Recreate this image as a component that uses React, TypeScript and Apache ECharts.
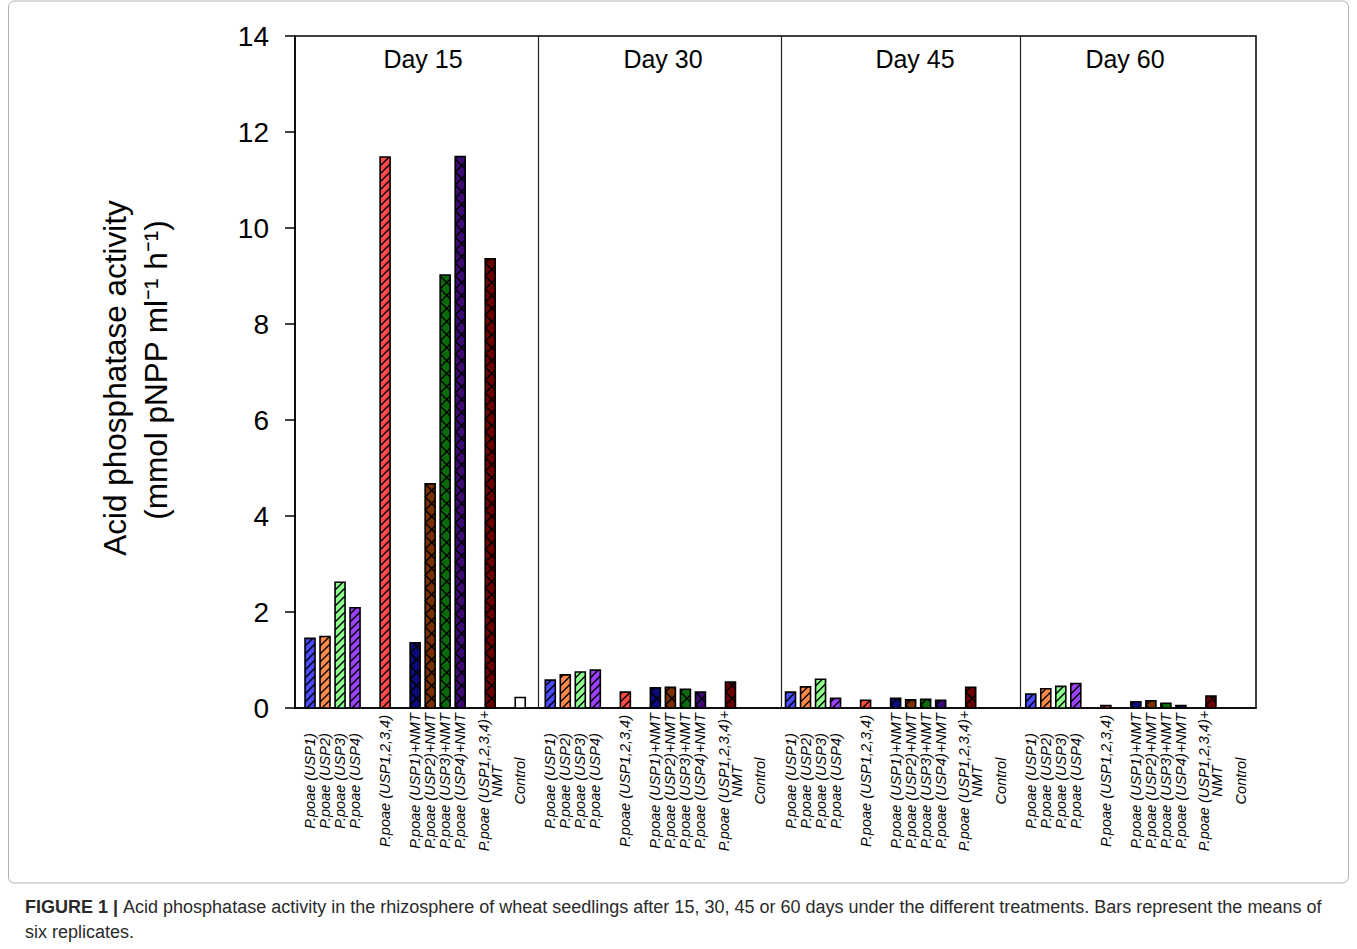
import React, { useEffect, useRef } from "react";
import * as echarts from "echarts";

const days = ["Day 15", "Day 30", "Day 45", "Day 60"];
const treatments = [
  "P.poae (USP1)",
  "P.poae (USP2)",
  "P.poae (USP3)",
  "P.poae (USP4)",
  "P.poae (USP1,2,3,4)",
  "P.poae (USP1)+NMT",
  "P.poae (USP2)+NMT",
  "P.poae (USP3)+NMT",
  "P.poae (USP4)+NMT",
  "P.poae (USP1,2,3,4)+\nNMT",
  "Control",
];
// slot of each treatment inside a 16-slot day block
const slots = [1, 2, 3, 4, 6, 8, 9, 10, 11, 13, 15];
const blockSize = 16;

const day15 = [1.45, 1.49, 2.62, 2.09, 11.48, 1.36, 4.67, 9.02, 11.49, 9.36, 0.22];
const day30 = [0.58, 0.69, 0.75, 0.79, 0.33, 0.42, 0.43, 0.39, 0.33, 0.54, 0];
const day45 = [0.33, 0.44, 0.6, 0.2, 0.16, 0.2, 0.17, 0.18, 0.16, 0.43, 0];
const day60 = [0.29, 0.4, 0.45, 0.51, 0.05, 0.13, 0.15, 0.1, 0.05, 0.25, 0];
const values = [day15, day30, day45, day60];

const colors = [
  "#4b4bff",
  "#ff8a4c",
  "#8cff8c",
  "#9b42ff",
  "#ff4a4a",
  "#0b0b7c",
  "#7a3102",
  "#0b6a0b",
  "#3b0b72",
  "#6b0202",
  "#ffffff",
];
// 0 = single diagonal hatch, 1 = zigzag cross hatch, 2 = plain
const patterns = [0, 0, 0, 0, 0, 1, 1, 1, 1, 1, 2];

const yTicks = [0, 2, 4, 6, 8, 10, 12, 14];
const dividers = [16.2, 32.4, 48.3];

export default function App() {
  const ref = useRef<HTMLDivElement>(null);

  useEffect(() => {
    if (!ref.current) return;
    const chart = echarts.init(ref.current, null, { renderer: "svg" });

    const data: any[] = [];
    const meta: { color: string; pat: number }[] = [];
    values.forEach((arr, g) => {
      arr.forEach((v, i) => {
        data.push([g * blockSize + slots[i], v]);
        meta.push({ color: colors[i], pat: patterns[i] });
      });
    });

    const labelMap: Record<number, string> = {};
    days.forEach((_, g) => {
      treatments.forEach((t, i) => {
        labelMap[g * blockSize + slots[i]] = t;
      });
    });

    const renderItem = (params: any, api: any) => {
      const x = api.value(0);
      const y = api.value(1);
      const m = meta[params.dataIndex];
      const base = api.coord([x, 0]);
      const top = api.coord([x, y]);
      const w = 10;
      const x0 = base[0] - w / 2;
      const yb = base[1];
      const yt = top[1];
      const h = yb - yt;
      const children: any[] = [];
      if (h <= 0.3) return { type: "group", children };
      children.push({
        type: "rect",
        shape: { x: x0, y: yt, width: w, height: h },
        style: { fill: m.color, stroke: "none" },
      });
      const lineStyle = { stroke: "#000", lineWidth: 1.4 };
      if (m.pat === 0) {
        const S = 8;
        for (let t = yb + w; t > yt; t -= S) {
          const umin = Math.max(0, t - yb);
          const umax = Math.min(w, t - yt);
          if (umax > umin) {
            children.push({
              type: "line",
              shape: { x1: x0 + umin, y1: t - umin, x2: x0 + umax, y2: t - umax },
              style: lineStyle,
            });
          }
        }
      } else if (m.pat === 1) {
        const S = 13;
        for (let t = yb + w; t > yt - w; t -= S) {
          let umin = Math.max(0, t - yb);
          let umax = Math.min(w, t - yt);
          if (umax > umin) {
            children.push({
              type: "line",
              shape: { x1: x0 + umin, y1: t - umin, x2: x0 + umax, y2: t - umax },
              style: lineStyle,
            });
          }
          umin = Math.max(0, yt - t);
          umax = Math.min(w, yb - t);
          if (umax > umin) {
            children.push({
              type: "line",
              shape: { x1: x0 + umin, y1: t + umin, x2: x0 + umax, y2: t + umax },
              style: lineStyle,
            });
          }
        }
      }
      children.push({
        type: "rect",
        shape: { x: x0, y: yt, width: w, height: h },
        style: { fill: "none", stroke: "#000", lineWidth: 1.6 },
      });
      return { type: "group", children };
    };

    const dayCenters = [423, 663, 915, 1125];
    const font = "Liberation Sans, Arial, sans-serif";

    chart.setOption({
      animation: false,
      backgroundColor: "#ffffff",
      grid: {
        left: 295,
        top: 36,
        width: 961,
        height: 672,
        show: true,
        borderColor: "#000",
        borderWidth: 1.5,
        backgroundColor: "transparent",
      },
      xAxis: {
        type: "value",
        min: 0,
        max: blockSize * days.length,
        interval: 1,
        axisLine: { show: true, lineStyle: { color: "#000", width: 1.5 } },
        axisTick: { show: false },
        splitLine: { show: false },
        axisLabel: {
          rotate: 90,
          align: "center",
          verticalAlign: "middle",
          margin: 73,
          fontSize: 14.5,
          lineHeight: 13,
          fontStyle: "italic",
          fontFamily: font,
          color: "#000",
          showMinLabel: true,
          showMaxLabel: true,
          formatter: (v: number) => labelMap[Math.round(v)] || "",
        },
      },
      yAxis: {
        type: "value",
        min: 0,
        max: 14,
        interval: 2,
        axisLine: { show: true, lineStyle: { color: "#000", width: 1.5 } },
        axisTick: { show: true, inside: false, length: 10, lineStyle: { color: "#000", width: 1.5 } },
        splitLine: { show: false },
        axisLabel: {
          margin: 26,
          fontSize: 28,
          fontFamily: font,
          color: "#000",
          formatter: (v: number) => (yTicks.includes(v) ? String(v) : ""),
        },
      },
      series: [
        {
          type: "custom",
          renderItem,
          data,
          clip: false,
          silent: true,
        },
        {
          type: "line",
          data: [],
          silent: true,
          markLine: {
            silent: true,
            symbol: "none",
            label: { show: false },
            lineStyle: { color: "#222", width: 1.2, type: "solid" },
            data: dividers.map((d) => ({ xAxis: d })),
          },
        },
      ],
      graphic: [
        {
          type: "rect",
          shape: { x: 8.5, y: 1, width: 1340, height: 882, r: 6 },
          style: { fill: "none", stroke: "#b0b0b0", lineWidth: 1 },
          silent: true,
        },
        ...days.map((d, i) => ({
          type: "text",
          x: dayCenters[i],
          y: 59,
          style: {
            text: d,
            fontSize: 25,
            fontFamily: font,
            fill: "#000",
            align: "center",
            verticalAlign: "middle",
          },
        })),
        {
          type: "text",
          x: 115,
          y: 378,
          rotation: Math.PI / 2,
          style: {
            text: "Acid phosphatase activity",
            fontSize: 31.5,
            fontFamily: font,
            fill: "#000",
            align: "center",
            verticalAlign: "middle",
          },
        },
        {
          type: "text",
          x: 156,
          y: 370,
          rotation: Math.PI / 2,
          style: {
            text: "(mmol pNPP ml\u207B\u00B9 h\u207B\u00B9)",
            fontSize: 31.5,
            fontFamily: font,
            fill: "#000",
            align: "center",
            verticalAlign: "middle",
          },
        },
        {
          type: "text",
          x: 25,
          y: 907,
          style: {
            text:
              "{b|FIGURE 1 | }{n|Acid phosphatase activity in the rhizosphere of wheat seedlings after 15, 30, 45 or 60 days under the different treatments. Bars represent the means of}",
            verticalAlign: "middle",
            rich: {
              b: { fontSize: 18, fontWeight: "bold", fontFamily: font, fill: "#2a2a2a" },
              n: { fontSize: 18, fontFamily: font, fill: "#2a2a2a" },
            },
          },
        },
        {
          type: "text",
          x: 25,
          y: 932,
          style: {
            text: "six replicates.",
            fontSize: 18,
            fontFamily: font,
            fill: "#2a2a2a",
            verticalAlign: "middle",
          },
        },
      ],
    });

    return () => chart.dispose();
  }, []);

  return (
    <div
      ref={ref}
      style={{ position: "absolute", left: 0, top: 0, width: 1357, height: 949 }}
    />
  );
}
